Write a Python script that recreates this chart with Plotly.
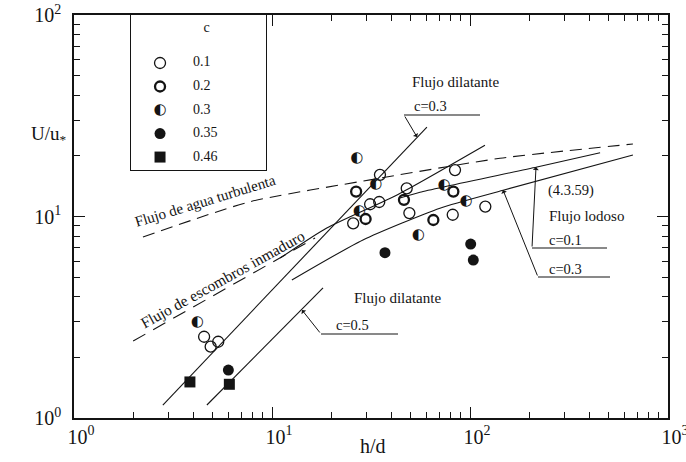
import plotly.graph_objects as go

# ---- measured points, grouped by sediment concentration c ----
c01_x = [35.1, 47.9, 84.0, 31.3, 34.8, 25.7, 49.4, 81.8, 119.5, 4.54, 4.90, 5.35]
c01_y = [16.1, 13.8, 17.0, 11.5, 11.8, 9.25, 10.4, 10.2, 11.2, 2.53, 2.26, 2.39]

c02_x = [26.6, 82.4, 46.4, 29.7, 65.3]
c02_y = [13.3, 13.3, 12.1, 9.72, 9.61]

c03_x = [26.8, 33.4, 73.9, 27.6, 95.5, 54.8, 4.19]
c03_y = [19.4, 14.45, 14.3, 10.6, 11.9, 8.09, 3.0]

c035_x = [37.2, 100.8, 103.9, 6.02]
c035_y = [6.61, 7.30, 6.08, 1.73]

c046_x = [3.85, 6.09]
c046_y = [1.51, 1.47]

# ---- theoretical curves ----
turb_x = [2.23, 7.74, 31.3, 141.8, 665]
turb_y = [7.91, 11.84, 15.2, 19.45, 22.9]

inmad_dash_x = [1.99, 16.5]
inmad_dash_y = [2.41, 7.82]
inmad_x = [11.0, 18.9, 42.8, 119]
inmad_y = [6.22, 8.77, 12.8, 22.6]

dil03_x = [2.81, 60.6]
dil03_y = [1.16, 27.8]
dil05_x = [4.69, 18.1]
dil05_y = [1.16, 4.42]

lod01_x = [44.3, 55.9, 218, 454]
lod01_y = [12.36, 13.2, 17.6, 20.7]
lod03_x = [12.6, 28.8, 70.5, 147, 665]
lod03_y = [4.84, 7.65, 11.0, 13.5, 20.2]

legend_labels = ["0.1", "0.2", "0.3", "0.35", "0.46"]

SERIF = "Liberation Serif"
INK = "#141414"

W, H = 686, 462
ML, MR, MT, MB = 74, 18, 15, 44
PW, PH = W - ML - MR, H - MT - MB


def P(px, py):
    """pixel position -> paper coordinates"""
    return (px - ML) / PW, (H - MB - py) / PH


fig = go.Figure()


def curve(x, y, dash="solid"):
    fig.add_trace(go.Scatter(x=x, y=y, mode="lines", showlegend=False,
                             line=dict(color=INK, width=1.1, dash=dash, shape="spline", smoothing=0.6),
                             hoverinfo="skip"))


curve(turb_x, turb_y, dash="12px,7px")
curve(inmad_dash_x, inmad_dash_y, dash="14px,9px")
curve(inmad_x, inmad_y)
curve(dil03_x, dil03_y)
curve(dil05_x, dil05_y)
curve(lod01_x, lod01_y)
curve(lod03_x, lod03_y)

MS = 11
fig.add_trace(go.Scatter(x=c01_x, y=c01_y, mode="markers", showlegend=False,
                         marker=dict(symbol="circle-open", size=MS, color=INK, line=dict(width=1.3))))
fig.add_trace(go.Scatter(x=c02_x, y=c02_y, mode="markers", showlegend=False,
                         marker=dict(symbol="circle-open", size=MS - 1, color=INK, line=dict(width=2.3))))
fig.add_trace(go.Scatter(x=c03_x, y=c03_y, mode="text", text=["\u25D0"] * len(c03_x),
                         textposition="middle center", showlegend=False,
                         textfont=dict(family="DejaVu Sans", size=15, color=INK)))
fig.add_trace(go.Scatter(x=c035_x, y=c035_y, mode="markers", showlegend=False,
                         marker=dict(symbol="circle", size=MS, color=INK)))
fig.add_trace(go.Scatter(x=c046_x, y=c046_y, mode="markers", showlegend=False,
                         marker=dict(symbol="square", size=MS, color=INK)))

# ---- key box (inset axes) ----
idx = list(range(len(legend_labels)))
sym_x = 0.215
fig.add_trace(go.Scatter(x=[sym_x], y=[0], xaxis="x2", yaxis="y2", mode="markers", showlegend=False,
                         marker=dict(symbol="circle-open", size=MS, color=INK, line=dict(width=1.3))))
fig.add_trace(go.Scatter(x=[sym_x], y=[1], xaxis="x2", yaxis="y2", mode="markers", showlegend=False,
                         marker=dict(symbol="circle-open", size=MS - 1, color=INK, line=dict(width=2.3))))
fig.add_trace(go.Scatter(x=[sym_x], y=[2], xaxis="x2", yaxis="y2", mode="text", text=["\u25D0"],
                         showlegend=False, textfont=dict(family="DejaVu Sans", size=15, color=INK)))
fig.add_trace(go.Scatter(x=[sym_x], y=[3], xaxis="x2", yaxis="y2", mode="markers", showlegend=False,
                         marker=dict(symbol="circle", size=MS, color=INK)))
fig.add_trace(go.Scatter(x=[sym_x], y=[4], xaxis="x2", yaxis="y2", mode="markers", showlegend=False,
                         marker=dict(symbol="square", size=MS, color=INK)))
fig.add_trace(go.Scatter(x=[0.46] * len(idx), y=idx, xaxis="x2", yaxis="y2", mode="text",
                         text=legend_labels, textposition="middle right", showlegend=False,
                         textfont=dict(family=SERIF, size=14, color=INK)))
fig.add_trace(go.Scatter(x=[0.56], y=[-1.45], xaxis="x2", yaxis="y2", mode="text", text=["c"],
                         showlegend=False, textfont=dict(family=SERIF, size=14, color=INK)))

bx0, by0 = P(131, 170)
bx1, by1 = P(266, 15)

minor_vals = [m * 10 ** e for e in range(0, 3) for m in range(2, 10)]
tick_style = dict(type="log", showgrid=False, zeroline=False, automargin=False,
                  ticks="inside", ticklen=11, tickwidth=1.1, tickcolor=INK,
                  minor=dict(tickvals=minor_vals, ticks="inside", ticklen=6, tickwidth=1, tickcolor=INK))
frame = dict(showline=True, linecolor=INK, linewidth=1.5, mirror=True)

fig.update_layout(
    width=W, height=H, margin=dict(l=ML, r=MR, t=MT, b=MB, autoexpand=False),
    paper_bgcolor="white", plot_bgcolor="white",
    xaxis=dict(tick_style, **frame, range=[0, 3], tickvals=[1, 10, 100, 1000],
               ticktext=["10<sup>0</sup>", "10<sup>1</sup>", "10<sup>2</sup>", "10<sup>3</sup>"],
               ticklabelshift=7, ticklabeloverflow="allow",
               tickfont=dict(family=SERIF, size=20, color=INK)),
    yaxis=dict(tick_style, **frame, range=[0, 2], tickvals=[1, 10, 100],
               ticktext=["10<sup>0</sup>", "10<sup>1</sup>", "10<sup>2</sup>"],
               ticklabelstandoff=7, ticklabeloverflow="allow",
               tickfont=dict(family=SERIF, size=20, color=INK)),
    # tick marks repeated along the top and right edges of the frame
    xaxis3=dict(tick_style, range=[0, 3], tickvals=[1, 10, 100, 1000], overlaying="x", side="top",
                anchor="y", showticklabels=False),
    yaxis3=dict(tick_style, range=[0, 2], tickvals=[1, 10, 100], overlaying="y", side="right",
                anchor="x", showticklabels=False),
    xaxis2=dict(domain=[bx0, bx1], range=[0, 1], anchor="y2", showgrid=False, zeroline=False,
                showticklabels=False, showline=True, mirror=True, linecolor=INK, linewidth=1.2),
    yaxis2=dict(domain=[by0, by1], range=[4.55, -2.04], anchor="x2", showgrid=False, zeroline=False,
                showticklabels=False, showline=True, mirror=True, linecolor=INK, linewidth=1.2),
    font=dict(family=SERIF, color=INK),
)
# an invisible carrier trace so the top/right tick axes are laid out
fig.add_trace(go.Scatter(x=[10], y=[10], xaxis="x3", yaxis="y3", mode="markers", showlegend=False,
                         marker=dict(size=1, opacity=0), hoverinfo="skip"))

# ---- labels and leaders ----
ann = []


def text(px, py, s, size=13, angle=0):
    x, y = P(px, py)
    ann.append(dict(x=x, y=y, xref="paper", yref="paper", text=s, showarrow=False,
                    xanchor="center", yanchor="middle",
                    textangle=angle, font=dict(family=SERIF, size=size, color=INK)))


def leader(tip, elbow, end):
    x, y = P(*tip)
    ann.append(dict(x=x, y=y, xref="paper", yref="paper", text="", showarrow=True,
                    ax=elbow[0] - tip[0], ay=elbow[1] - tip[1], arrowhead=1, arrowsize=1,
                    arrowwidth=1, arrowcolor=INK))
    x0, y0 = P(*elbow)
    x1, y1 = P(*end)
    fig.add_shape(type="line", xref="paper", yref="paper", x0=x0, y0=y0, x1=x1, y1=y1,
                  line=dict(color=INK, width=1.1))


text(49, 135, "U/u<sub>*</sub>", size=19)
text(373, 446, "h/d", size=20)
text(205, 201, "Flujo de agua turbulenta", size=15, angle=-17)
text(222, 279, "Flujo de escombros inmaduro", size=15.5, angle=-29)
text(455, 82, "Flujo dilatante", size=15)
text(430, 106, "c=0.3", size=14.5)
leader((417, 137), (404, 115), (480, 115))
text(397, 298, "Flujo dilatante", size=15)
text(352, 325, "c=0.5", size=14.5)
leader((302, 310), (321, 334), (398, 334))
text(571, 190, "(4.3.59)", size=14.5)
text(586, 216, "Flujo lodoso", size=15)
text(565, 240, "c=0.1", size=14.5)
leader((536, 167), (532, 248), (607, 248))
text(565, 269, "c=0.3", size=14.5)
leader((503, 190), (538, 277), (610, 277))

fig.update_layout(annotations=ann)

fig.write_html("out.html")
